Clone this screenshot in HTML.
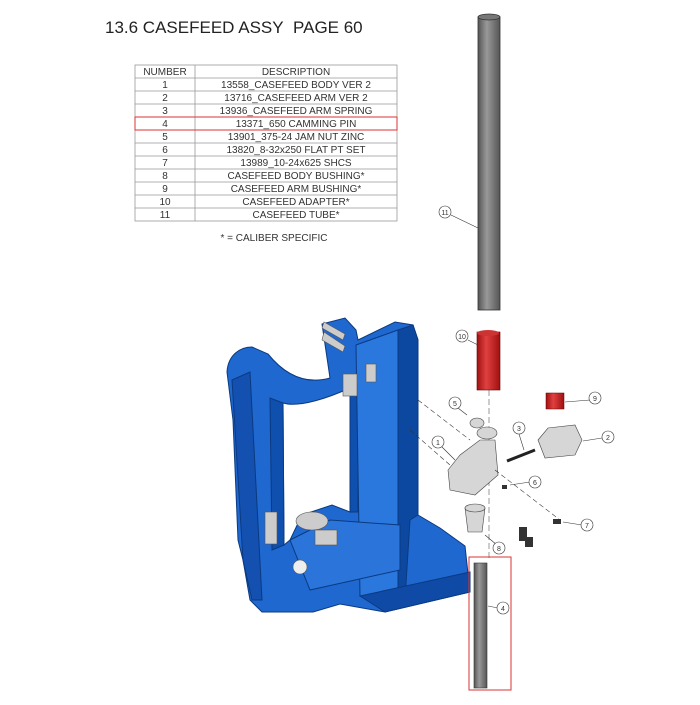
<!DOCTYPE html>
<html><head><meta charset="utf-8"><style>
body{margin:0;background:#fff;width:700px;height:700px;overflow:hidden;font-family:"Liberation Sans",sans-serif}
</style></head><body>
<svg width="700" height="700" viewBox="0 0 700 700" xmlns="http://www.w3.org/2000/svg" font-family="Liberation Sans, sans-serif">
<text x="105" y="33" font-size="17" fill="#222">13.6 CASEFEED ASSY&#160;&#160;PAGE 60</text>
<g stroke="#999" stroke-width="0.8" fill="none">
<rect x="135" y="65" width="262" height="156"/>
<line x1="195" y1="65" x2="195" y2="221"/>
<line x1="135" y1="78" x2="397" y2="78"/><line x1="135" y1="91" x2="397" y2="91"/>
<line x1="135" y1="104" x2="397" y2="104"/><line x1="135" y1="130" x2="397" y2="130"/>
<line x1="135" y1="143" x2="397" y2="143"/><line x1="135" y1="156" x2="397" y2="156"/>
<line x1="135" y1="169" x2="397" y2="169"/><line x1="135" y1="182" x2="397" y2="182"/>
<line x1="135" y1="195" x2="397" y2="195"/><line x1="135" y1="208" x2="397" y2="208"/>
</g>
<rect x="135" y="117" width="262" height="13" fill="none" stroke="#d33" stroke-width="1"/>
<g font-size="10" fill="#333" text-anchor="middle">
<text x="165" y="75">NUMBER</text><text x="296" y="75">DESCRIPTION</text>
<text x="165" y="88">1</text><text x="296" y="88">13558_CASEFEED BODY VER 2</text>
<text x="165" y="101">2</text><text x="296" y="101">13716_CASEFEED ARM VER 2</text>
<text x="165" y="114">3</text><text x="296" y="114">13936_CASEFEED ARM SPRING</text>
<text x="165" y="127">4</text><text x="296" y="127">13371_650 CAMMING PIN</text>
<text x="165" y="140">5</text><text x="296" y="140">13901_375-24 JAM NUT ZINC</text>
<text x="165" y="153">6</text><text x="296" y="153">13820_8-32x250 FLAT PT SET</text>
<text x="165" y="166">7</text><text x="296" y="166">13989_10-24x625 SHCS</text>
<text x="165" y="179">8</text><text x="296" y="179">CASEFEED BODY BUSHING*</text>
<text x="165" y="192">9</text><text x="296" y="192">CASEFEED ARM BUSHING*</text>
<text x="165" y="205">10</text><text x="296" y="205">CASEFEED ADAPTER*</text>
<text x="165" y="218">11</text><text x="296" y="218">CASEFEED TUBE*</text>
<text x="274" y="241">* = CALIBER SPECIFIC</text>
</g>
<defs>
<linearGradient id="g" x1="0" x2="1"><stop offset="0" stop-color="#555"/><stop offset=".4" stop-color="#999"/><stop offset="1" stop-color="#555"/></linearGradient>
<linearGradient id="r" x1="0" x2="1"><stop offset="0" stop-color="#a01010"/><stop offset=".4" stop-color="#e04040"/><stop offset="1" stop-color="#a01010"/></linearGradient>
</defs>
<rect x="478" y="17" width="22" height="293" fill="url(#g)" stroke="#333" stroke-width=".8"/>
<ellipse cx="489" cy="17" rx="11" ry="3" fill="#777" stroke="#333" stroke-width=".8"/>
<rect x="477" y="332" width="23" height="58" fill="url(#r)" stroke="#600" stroke-width=".6"/>
<ellipse cx="488" cy="333" rx="11" ry="3" fill="#c33"/>
<line x1="489" y1="390" x2="489" y2="560" stroke="#555" stroke-width=".6" stroke-dasharray="6,3"/>
<g stroke="#0a3a80" stroke-width="1">
<path d="M227,372 C228,355 240,347 252,347 L268,354 C285,375 305,385 330,378 L322,324 L345,318 L356,330 L358,340 L395,322 L413,325 L418,340 L418,515 L440,528 L465,546 L470,592 L385,612 L340,604 L313,612 L262,612 L250,600 L243,560 L238,540 L233,420 Z" fill="#1f68d0"/>
<path d="M283,403 C300,408 330,397 350,388 L350,512 L332,505 L302,515 L290,540 L284,545 Z" fill="#fff" stroke="#0a3a80"/>
<path d="M270,398 L283,403 L284,545 L272,550 Z" fill="#0f4fae"/>
<path d="M350,388 L358,385 L358,512 L350,512 Z" fill="#0f4fae"/>
<path d="M398,330 L413,325 L418,340 L418,515 L410,520 L405,600 L398,600 Z" fill="#0d48a0"/>
<path d="M356,345 L398,330 L398,600 L360,596 Z" fill="#2a78de"/>
<path d="M232,380 L250,372 L262,600 L252,600 L243,560 Z" fill="#1450b0"/>
<path d="M360,596 L470,572 L470,592 L385,612 Z" fill="#0f4aa6"/>
<path d="M290,540 L330,520 L400,525 L400,570 L310,590 Z" fill="#2a74da"/>
</g>
<g fill="#ccc" stroke="#555" stroke-width=".6">
<rect x="343" y="374" width="14" height="22"/>
<rect x="366" y="364" width="10" height="18"/>
<rect x="265" y="512" width="12" height="32"/>
<ellipse cx="312" cy="521" rx="16" ry="9"/>
<rect x="315" y="530" width="22" height="15"/>
<circle cx="300" cy="567" r="7" fill="#eee"/>
<path d="M324,322 L345,334 L343,340 L322,328 Z"/>
<path d="M324,332 L345,346 L343,352 L322,340 Z"/>
</g>
<g fill="#d6d6d6" stroke="#444" stroke-width=".6">
<path d="M448,470 L460,455 L480,440 L495,440 L498,475 L475,495 L450,490 Z"/>
<ellipse cx="487" cy="433" rx="10" ry="6"/>
<path d="M538,440 L548,428 L575,425 L582,440 L575,455 L545,458 Z"/>
<ellipse cx="477" cy="423" rx="7" ry="5"/>
<path d="M465,508 L485,508 L482,532 L468,532 Z"/>
<ellipse cx="475" cy="508" rx="10" ry="4"/>
</g>
<rect x="546" y="393" width="18" height="16" fill="url(#r)" stroke="#600" stroke-width=".5"/>
<line x1="507" y1="461" x2="535" y2="450" stroke="#222" stroke-width="3"/>
<g fill="#333"><rect x="502" y="485" width="5" height="4"/><rect x="553" y="519" width="8" height="5"/><rect x="519" y="527" width="8" height="14"/><rect x="525" y="537" width="8" height="10"/></g>
<rect x="474" y="563" width="13" height="125" fill="url(#g)" stroke="#333" stroke-width=".6"/>
<rect x="469" y="557" width="42" height="133" fill="none" stroke="#d33" stroke-width="1"/>
<g stroke="#333" stroke-width=".6" fill="none">
<line x1="451" y1="215" x2="478" y2="228"/><line x1="468" y1="340" x2="478" y2="345"/>
<line x1="590" y1="400" x2="565" y2="402"/><line x1="458" y1="408" x2="467" y2="415"/>
<line x1="519" y1="434" x2="524" y2="450"/><line x1="602" y1="438" x2="583" y2="441"/>
<line x1="442" y1="447" x2="455" y2="460"/><line x1="530" y1="482" x2="510" y2="485"/>
<line x1="582" y1="525" x2="563" y2="522"/><line x1="497" y1="545" x2="485" y2="535"/>
<line x1="498" y1="608" x2="488" y2="606"/>
<line x1="418" y1="400" x2="470" y2="440" stroke-dasharray="5,3"/>
<line x1="410" y1="430" x2="450" y2="465" stroke-dasharray="5,3"/>
<line x1="495" y1="470" x2="560" y2="520" stroke-dasharray="5,3"/>
</g>
<g fill="#fff" stroke="#333" stroke-width=".6">
<circle cx="445" cy="212" r="6"/><circle cx="462" cy="336" r="6"/><circle cx="595" cy="398" r="6"/>
<circle cx="455" cy="403" r="6"/><circle cx="519" cy="428" r="6"/><circle cx="608" cy="437" r="6"/>
<circle cx="438" cy="442" r="6"/><circle cx="535" cy="482" r="6"/><circle cx="587" cy="525" r="6"/>
<circle cx="499" cy="548" r="6"/><circle cx="503" cy="608" r="6"/>
</g>
<g fill="#333" font-size="7" text-anchor="middle">
<text x="445" y="215">11</text><text x="462" y="339">10</text><text x="595" y="401">9</text>
<text x="455" y="406">5</text><text x="519" y="431">3</text><text x="608" y="440">2</text>
<text x="438" y="445">1</text><text x="535" y="485">6</text><text x="587" y="528">7</text>
<text x="499" y="551">8</text><text x="503" y="611">4</text>
</g>
</svg>
</body></html>
